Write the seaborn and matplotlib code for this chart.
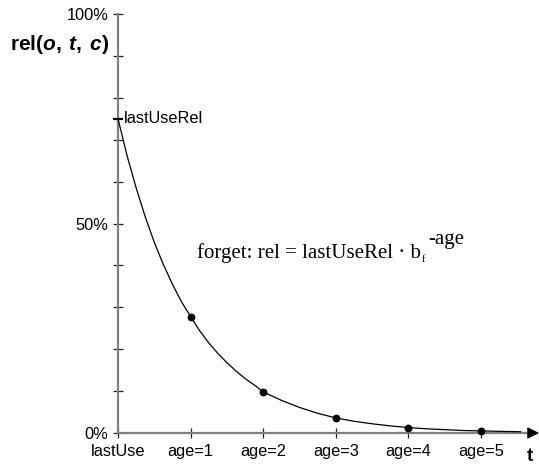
import matplotlib
matplotlib.use("Agg")
import matplotlib.pyplot as plt
import seaborn as sns
import pandas as pd
from matplotlib.ticker import FixedLocator, MultipleLocator

# ---- data ----
curve_t = [0, 0.125, 0.25, 0.375, 0.5, 0.625, 0.75, 0.875, 1.0, 1.125, 1.25,
           1.375, 1.5, 1.625, 1.75, 1.875, 2.0, 2.25, 2.5, 2.75,
           3.0, 3.25, 3.5, 3.75, 4.0, 4.25, 4.5, 4.75, 5.0, 5.25, 5.55]
curve_rel = [0.75, 0.662, 0.585, 0.516, 0.455, 0.402, 0.355, 0.313, 0.278,
             0.244, 0.215, 0.19, 0.168, 0.148, 0.13, 0.115, 0.098, 0.078,
             0.061, 0.047, 0.036, 0.028, 0.022, 0.017, 0.013, 0.010, 0.008,
             0.006, 0.005, 0.004, 0.003]
point_age = [1, 2, 3, 4, 5]
point_rel = [0.278, 0.098, 0.036, 0.013, 0.005]
x_ticks = [0, 1, 2, 3, 4, 5]
x_labels = ["lastUse", "age=1", "age=2", "age=3", "age=4", "age=5"]
y_ticks = [0.0, 0.5, 1.0]
y_labels = ["0%", "50%", "100%"]
last_use_rel = 0.75

sns.set_theme(style="white")
plt.rcParams["font.family"] = ["Liberation Sans", "DejaVu Sans"]
plt.rcParams["mathtext.fontset"] = "custom"
plt.rcParams["mathtext.rm"] = "Liberation Sans:bold"
plt.rcParams["mathtext.bf"] = "Liberation Sans:bold"
plt.rcParams["mathtext.it"] = "Liberation Sans:bold:italic"

fig = plt.figure(figsize=(5.39, 4.66), dpi=100)
ax = fig.add_axes([0, 0, 1, 1])
ax.patch.set_alpha(0)

curve_df = pd.DataFrame({"t": curve_t, "rel": curve_rel})
pts_df = pd.DataFrame({"t": point_age, "rel": point_rel})
sns.lineplot(data=curve_df, x="t", y="rel", ax=ax, color="black", lw=0.9,
             zorder=3)
sns.scatterplot(data=pts_df, x="t", y="rel", ax=ax, color="black", s=32,
                edgecolor="black", linewidth=0, zorder=4)

# pixel mapping: x=0 at px 118, 72.6 px/unit; y=0 at px 433, 1.0 at px 14
ax.set_xlim(-118 / 72.6, (539 - 118) / 72.6)
ax.set_ylim((433 - 466) / 419, 433 / 419)
ax.set_xlabel("")
ax.set_ylabel("")

for s in ["top", "right"]:
    ax.spines[s].set_visible(False)
spine_col = "#808080"
ax.spines["left"].set_position(("data", 0))
ax.spines["left"].set_bounds(0, 1)
ax.spines["bottom"].set_position(("data", 0))
ax.spines["bottom"].set_bounds(0, 5.62)
for s in ["left", "bottom"]:
    ax.spines[s].set_color(spine_col)
    ax.spines[s].set_linewidth(1.6)
    ax.spines[s].set_zorder(1)

ax.annotate("", xy=(5.8, 0), xytext=(5.64, 0),
            arrowprops=dict(arrowstyle="-|>,head_length=0.36,head_width=0.18",
                            color="black", lw=0.8, shrinkA=0, shrinkB=0,
                            mutation_scale=20))

ax.xaxis.set_major_locator(FixedLocator(x_ticks))
ax.set_xticklabels(x_labels)
ax.yaxis.set_major_locator(FixedLocator(y_ticks))
ax.set_yticklabels(y_labels)
ax.yaxis.set_minor_locator(MultipleLocator(0.1))
ax.tick_params(axis="both", which="both", direction="inout", length=7,
               width=0.9, color="#222222", labelsize=11.8, labelcolor="black")
ax.tick_params(axis="x", pad=4.5, bottom=True)
ax.tick_params(axis="y", which="both", pad=3.4, left=True)

# lastUseRel marker tick and label
ax.hlines(last_use_rel, -0.068, 0.068, color="black", lw=1.6, zorder=5)
ax.text(0.075, last_use_rel, "lastUseRel", ha="left", va="center",
        fontsize=11.8, color="black")

# axis titles
ax.text(-0.124, 0.928, r"$\mathrm{rel(}\mathit{o},\:\mathit{t},\:\mathit{c}\mathrm{)}$",
        ha="right", va="center", fontsize=15, color="black")
ax.text(5.675, -0.056, "t", ha="center", va="center", fontsize=13.5,
        fontweight="bold", color="black")

# formula
serif = ["Liberation Serif", "DejaVu Serif"]
main = ax.text(1.088, 0.43, "forget: rel = lastUseRel \u00b7 b", ha="left",
               va="center", fontsize=15.0, family=serif, color="black")
ax.annotate("f", xy=(1, 0), xycoords=main, xytext=(0.3, 2.5),
            textcoords="offset points", ha="left", va="center", fontsize=7,
            family=serif, color="black")
ax.annotate("-age", xy=(1, 1), xycoords=main, xytext=(5.5, 2.5),
            textcoords="offset points", ha="left", va="center", fontsize=15.0,
            family=serif, color="black")

fig.savefig("out.png", dpi=100)
